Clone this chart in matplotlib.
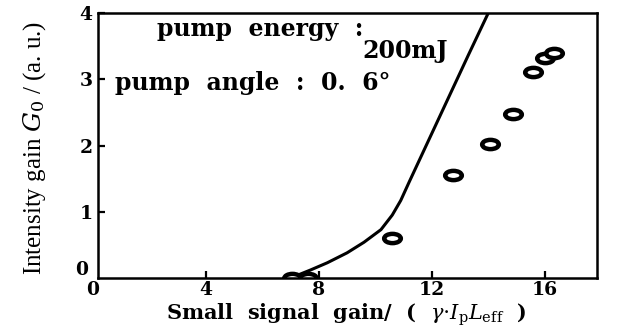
from matplotlib import pyplot as plt
from matplotlib.path import Path
from matplotlib.transforms import Affine2D

# measured points (open circles)
x_meas = [7.05, 7.6, 10.58, 12.74, 14.05, 14.87, 15.58, 16.0, 16.32]
y_meas = [0.0, 0.0, 0.60, 1.56, 2.03, 2.47, 3.11, 3.32, 3.40]

# calculated curve
x_calc = [7.0, 7.7, 8.3, 9.0, 9.6, 10.2, 10.6, 10.9, 11.2, 11.9, 12.6, 13.3, 14.0]
y_calc = [0.0, 0.12, 0.23, 0.38, 0.54, 0.73, 0.95, 1.17, 1.45, 2.09, 2.73, 3.37, 4.0]

x_ticks = [4, 8, 12, 16]
y_ticks = [1, 2, 3, 4]

plt.rcParams["mathtext.fontset"] = "dejavuserif"
serif_bold = {"family": "DejaVu Serif", "weight": "bold"}

fig = plt.figure(figsize=(6.17, 3.29), dpi=100)
ax = fig.add_axes([0.1588, 0.155, 0.8088, 0.8055])

# wide ellipse marker
ell = Path.unit_circle().transformed(Affine2D().scale(1.8, 1.0))

ax.plot(x_calc, y_calc, color="black", lw=2.2)
ax.plot(x_meas, y_meas, ls="none", marker=ell, ms=12, mfc="white", mec="black", mew=3.2)

ax.set_xlim(0.18, 17.85)
ax.set_ylim(0, 4)
ax.set_xticks(x_ticks)
ax.set_yticks(y_ticks)
ax.tick_params(direction="in", length=5, width=1.6, pad=4)
ax.tick_params(axis="x", pad=2)
for lab in ax.get_xticklabels() + ax.get_yticklabels():
    lab.set_fontfamily("DejaVu Serif")
    lab.set_fontweight("bold")
    lab.set_fontsize(13.5)
for s in ax.spines.values():
    s.set_linewidth(1.8)

# the two origin labels sit apart at the lower-left corner
ax.text(0, -0.01, "0", transform=ax.get_xaxis_transform(), ha="center", va="top",
        fontsize=13.5, clip_on=False, **serif_bold)
ax.text(-0.02, 0.03, "0", transform=ax.transAxes, ha="right", va="center",
        fontsize=13.5, clip_on=False, **serif_bold)

ax.set_xlabel(r"Small  signal  gain/  (  $\gamma{\cdot}I_{\rm p}L_{\rm eff}$  )", fontsize=15, va="top", **serif_bold)
ax.xaxis.set_label_coords(0.497, -0.087)
ax.set_ylabel(r"Intensity gain $G_0$ / (a. u.)", fontsize=18, family="Liberation Serif")
ax.yaxis.set_label_coords(-0.10, 0.49)

ax.text(2.27, 3.76, "pump  energy  :", fontsize=17, va="center", **serif_bold)
ax.text(12.57, 3.43, "200mJ", fontsize=17, ha="right", va="center", **serif_bold)
ax.text(0.78, 2.94, "pump  angle  :  0.  6°", fontsize=17, va="center", **serif_bold)

plt.savefig("out.png", dpi=100)
